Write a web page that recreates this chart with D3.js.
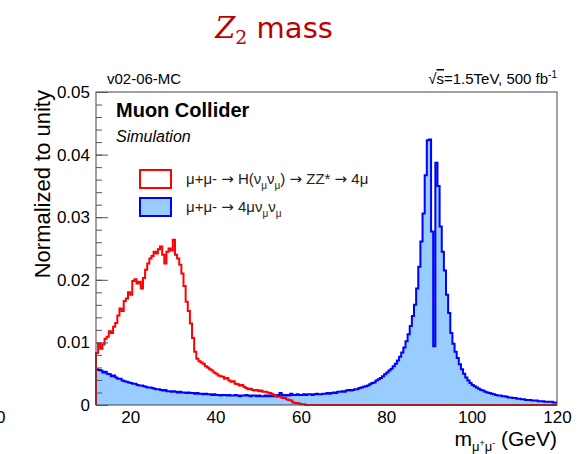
<!DOCTYPE html>
<html>
<head>
<meta charset="utf-8">
<script src="https://cdn.jsdelivr.net/npm/d3@7"></script>
<style>
  body { margin: 0; background: #fff; }
  svg text { font-family: "Liberation Sans", Arial, sans-serif; }
</style>
</head>
<body>
<svg width="577" height="454"></svg>
<script>
// bins: 0.5 GeV wide, starting at binStart
const binStart = 12;
const binWidth = 0.5;
const xMax = 120;

// mu+mu- -> H(nu nu) -> ZZ* -> 4mu  (12 .. 62 GeV, zero afterwards)
const signalValues = [
  0.0083, 0.0098, 0.0090, 0.0097, 0.0106, 0.0109, 0.0118, 0.0115, 0.0125, 0.0131,
  0.0143, 0.0154, 0.0150, 0.0166, 0.0170, 0.0180, 0.0176, 0.0198, 0.0201, 0.0194,
  0.0197, 0.0186, 0.0203, 0.0216, 0.0226, 0.0234, 0.0238, 0.0245, 0.0242, 0.0249,
  0.0253, 0.0240, 0.0226, 0.0245, 0.0250, 0.0247, 0.0264, 0.0240, 0.0234, 0.0224,
  0.0210, 0.0190, 0.0165, 0.0150, 0.0130, 0.0107, 0.0085, 0.0074, 0.0070, 0.0068,
  0.0066, 0.0062, 0.0060, 0.0057, 0.0055, 0.0052, 0.0050, 0.0047, 0.0046, 0.0045,
  0.0042, 0.0043, 0.0039, 0.0037, 0.0038, 0.0034, 0.0033, 0.0031, 0.0032, 0.0029,
  0.0027, 0.0025, 0.0026, 0.0024, 0.0023, 0.0024, 0.0022, 0.0023, 0.0021, 0.0021,
  0.0020, 0.0019, 0.0018, 0.0016, 0.0014, 0.0013, 0.0013, 0.0011, 0.0011, 0.0009,
  0.0008, 0.0007, 0.0004, 0.0003, 0.0003, 0.0002, 0.0001, 0.0001, 0.0000, 0.0000
];

// mu+mu- -> 4mu nu nu  (12 .. 120 GeV)
const backgroundValues = [
  0.0057, 0.0056, 0.0055, 0.0052, 0.0053, 0.0050, 0.0049, 0.0046, 0.0047, 0.0044,
  0.0042, 0.0042, 0.0039, 0.0038, 0.0037, 0.0036, 0.0035, 0.0034, 0.0034, 0.0032,
  0.0031, 0.0031, 0.0030, 0.0029, 0.0028, 0.0028, 0.0027, 0.0026, 0.0025, 0.0025,
  0.0024, 0.0023, 0.0024, 0.0022, 0.0022, 0.0021, 0.0022, 0.0021, 0.0020, 0.0021,
  0.0020, 0.0020, 0.0019, 0.0020, 0.0019, 0.0019, 0.0018, 0.0019, 0.0018, 0.0018,
  0.0017, 0.0018, 0.0017, 0.0017, 0.0016, 0.0017, 0.0016, 0.0016, 0.0015, 0.0016,
  0.0016, 0.0015, 0.0016, 0.0015, 0.0015, 0.0016, 0.0015, 0.0014, 0.0015, 0.0015,
  0.0016, 0.0015, 0.0014, 0.0015, 0.0015, 0.0014, 0.0015, 0.0014, 0.0014, 0.0015,
  0.0014, 0.0015, 0.0014, 0.0015, 0.0014, 0.0016, 0.0019, 0.0016, 0.0015, 0.0016,
  0.0015, 0.0018, 0.0016, 0.0016, 0.0017, 0.0016, 0.0016, 0.0017, 0.0016, 0.0017,
  0.0017, 0.0016, 0.0017, 0.0018, 0.0017, 0.0017, 0.0018, 0.0018, 0.0019, 0.0018,
  0.0019, 0.0020, 0.0019, 0.0021, 0.0021, 0.0022, 0.0021, 0.0023, 0.0024, 0.0023,
  0.0024, 0.0025, 0.0025, 0.0027, 0.0028, 0.0029, 0.0030, 0.0031, 0.0033, 0.0035,
  0.0036, 0.0039, 0.0041, 0.0043, 0.0046, 0.0049, 0.0052, 0.0055, 0.0058, 0.0062,
  0.0066, 0.0071, 0.0077, 0.0084, 0.0092, 0.0102, 0.0113, 0.0126, 0.0142, 0.0160,
  0.0186, 0.0221, 0.0261, 0.0306, 0.0367, 0.0423, 0.0424, 0.0277, 0.0094, 0.0387,
  0.0350, 0.0285, 0.0245, 0.0215, 0.0176, 0.0147, 0.0115, 0.0098, 0.0085, 0.0075,
  0.0065, 0.0057, 0.0050, 0.0044, 0.0039, 0.0035, 0.0032, 0.0030, 0.0028, 0.0026,
  0.0024, 0.0023, 0.0021, 0.0020, 0.0019, 0.0018, 0.0017, 0.0016, 0.0015, 0.0015,
  0.0014, 0.0014, 0.0013, 0.0012, 0.0012, 0.0011, 0.0011, 0.0010, 0.0010, 0.0009,
  0.0009, 0.0008, 0.0008, 0.0008, 0.0007, 0.0007, 0.0007, 0.0006, 0.0006, 0.0006,
  0.0005, 0.0005, 0.0005, 0.0005, 0.0004, 0.0004
];

const yTicks = [0, 0.01, 0.02, 0.03, 0.04, 0.05];
const xTicks = [20, 40, 60, 80, 100, 120];

const svg = d3.select("svg");
const frame = { left: 96, right: 557, top: 92, bottom: 405 };

const x = d3.scaleLinear().domain([binStart, xMax]).range([frame.left, frame.right]);
const y = d3.scaleLinear().domain([0, 0.05]).range([frame.bottom, frame.top]);

// turn bin contents into step points (left edge, value) + closing point
function toSteps(values) {
  const pts = values.map((v, i) => [binStart + i * binWidth, v]);
  pts.push([binStart + values.length * binWidth, values[values.length - 1]]);
  return pts;
}

const bgSteps = toSteps(backgroundValues);
const sigSteps = toSteps(signalValues);
// signal is empty above its last bin, continue at zero up to the axis end
sigSteps.push([xMax, 0]);

// title
const title = svg.append("text")
    .attr("x", 274)
    .attr("y", 38)
    .attr("text-anchor", "middle")
    .attr("fill", "#c00000")
    .style("font-size", "29px");
title.append("tspan")
    .style("font-family", "'DejaVu Serif', serif")
    .style("font-style", "italic")
    .text("Z");
title.append("tspan")
    .style("font-family", "'DejaVu Serif', serif")
    .style("font-size", "19px")
    .attr("dy", 6)
    .text("2");
title.append("tspan")
    .style("font-family", "'DejaVu Sans', Verdana, sans-serif")
    .attr("dy", -6)
    .text(" mass");

// fragment at left edge
svg.append("text")
    .attr("x", -4)
    .attr("y", 423)
    .style("font-size", "17px")
    .text("0");

// background fill
const area = d3.area()
    .curve(d3.curveStepAfter)
    .x(d => x(d[0]))
    .y0(y(0))
    .y1(d => y(d[1]));

svg.append("path")
    .datum(bgSteps)
    .attr("d", area)
    .attr("fill", "#99ccff");

const line = d3.line()
    .curve(d3.curveStepAfter)
    .x(d => x(d[0]))
    .y(d => y(d[1]));

svg.append("path")
    .datum([[binStart, 0]].concat(bgSteps))
    .attr("d", line)
    .attr("fill", "none")
    .attr("stroke", "#0000ff")
    .attr("stroke-width", 2);

svg.append("path")
    .datum([[binStart, 0]].concat(sigSteps))
    .attr("d", line)
    .attr("fill", "none")
    .attr("stroke", "#ff0000")
    .attr("stroke-width", 2);

// frame
svg.append("rect")
    .attr("x", frame.left)
    .attr("y", frame.top)
    .attr("width", frame.right - frame.left)
    .attr("height", frame.bottom - frame.top)
    .attr("fill", "none")
    .attr("stroke", "#444")
    .attr("stroke-width", 1);

// y axis: major + minor ticks pointing into the frame
const yMinor = d3.range(0, 0.0501, 0.002);
svg.append("g")
    .attr("transform", `translate(${frame.left},0)`)
    .call(d3.axisLeft(y).tickValues(yMinor).tickSize(-6).tickFormat(""))
    .call(g => g.select(".domain").remove())
    .call(g => g.selectAll("line").attr("stroke", "#555"));

svg.append("g")
    .attr("transform", `translate(${frame.left},0)`)
    .call(d3.axisLeft(y).tickValues(yTicks).tickSizeInner(-12).tickSizeOuter(0).tickPadding(6)
        .tickFormat(d => d === 0 ? "0" : d3.format(".2f")(d)))
    .call(g => g.select(".domain").remove())
    .call(g => g.selectAll("line").attr("stroke", "#555"))
    .call(g => g.selectAll("text")
        .style("font-family", "'Liberation Sans', Arial, sans-serif")
        .style("font-size", "17px")
        .attr("fill", "#000"));

// x axis labels
svg.append("g")
    .attr("transform", `translate(0,${frame.bottom})`)
    .call(d3.axisBottom(x).tickValues(xTicks).tickSize(0).tickPadding(6))
    .call(g => g.select(".domain").remove())
    .call(g => g.selectAll("text")
        .style("font-family", "'Liberation Sans', Arial, sans-serif")
        .style("font-size", "17px")
        .attr("fill", "#000"));

// axis titles
svg.append("text")
    .attr("transform", `translate(50,${frame.top - 2}) rotate(-90)`)
    .attr("text-anchor", "end")
    .style("font-size", "22px")
    .text("Normalized to unity");

const xTitle = svg.append("text")
    .attr("x", frame.right)
    .attr("y", 446)
    .attr("text-anchor", "end")
    .style("font-size", "21px");
xTitle.append("tspan").text("m");
xTitle.append("tspan").attr("dy", 5).style("font-size", "13px").text("μ");
xTitle.append("tspan").attr("dy", -5).style("font-size", "9px").text("+");
xTitle.append("tspan").attr("dy", 5).style("font-size", "13px").text("μ");
xTitle.append("tspan").attr("dy", -5).style("font-size", "9px").text("-");
xTitle.append("tspan").attr("dy", 0).text(" (GeV)");

// header texts
svg.append("text")
    .attr("x", 107)
    .attr("y", 84)
    .style("font-size", "15px")
    .text("v02-06-MC");

const lumi = svg.append("text")
    .attr("x", frame.right)
    .attr("y", 84)
    .attr("text-anchor", "end")
    .style("font-size", "15px");
lumi.append("tspan").text("√");
lumi.append("tspan").style("text-decoration", "overline").text("s");
lumi.append("tspan").text("=1.5TeV, 500 fb");
lumi.append("tspan").attr("dy", -6).style("font-size", "10px").text("-1");

svg.append("text")
    .attr("x", 116)
    .attr("y", 117)
    .style("font-size", "20px")
    .style("font-weight", "bold")
    .text("Muon Collider");

svg.append("text")
    .attr("x", 116)
    .attr("y", 142)
    .style("font-size", "16px")
    .style("font-style", "italic")
    .text("Simulation");

// legend
const legend = [
  { fill: "#ffffff", stroke: "#ff0000", parts: [["μ+μ- ", 0], ["→", 2], [" H(ν", 0], ["μ", 1], ["ν", 0], ["μ", 1], [") ", 0], ["→", 2], [" ZZ* ", 0], ["→", 2], [" 4μ", 0]] },
  { fill: "#99ccff", stroke: "#0000ff", parts: [["μ+μ- ", 0], ["→", 2], [" 4μν", 0], ["μ", 1], ["ν", 0], ["μ", 1]] }
];

legend.forEach((item, i) => {
  const top = 170 + i * 28;
  svg.append("rect")
      .attr("x", 140)
      .attr("y", top)
      .attr("width", 31)
      .attr("height", 18)
      .attr("fill", item.fill)
      .attr("stroke", item.stroke)
      .attr("stroke-width", 2);
  const t = svg.append("text")
      .attr("x", 186)
      .attr("y", top + 14)
      .style("font-size", "15px")
      .attr("fill", "#222");
  let shifted = 0;
  item.parts.forEach(([s, kind]) => {
    const sub = kind === 1;
    const dy = sub ? 5 - shifted : -shifted;
    shifted = sub ? 5 : 0;
    const ts = t.append("tspan")
        .attr("dy", dy)
        .style("font-size", sub ? "10px" : "15px")
        .text(s);
    if (kind === 2) ts.style("font-family", "'DejaVu Sans', sans-serif");
  });
});
</script>
</body>
</html>
